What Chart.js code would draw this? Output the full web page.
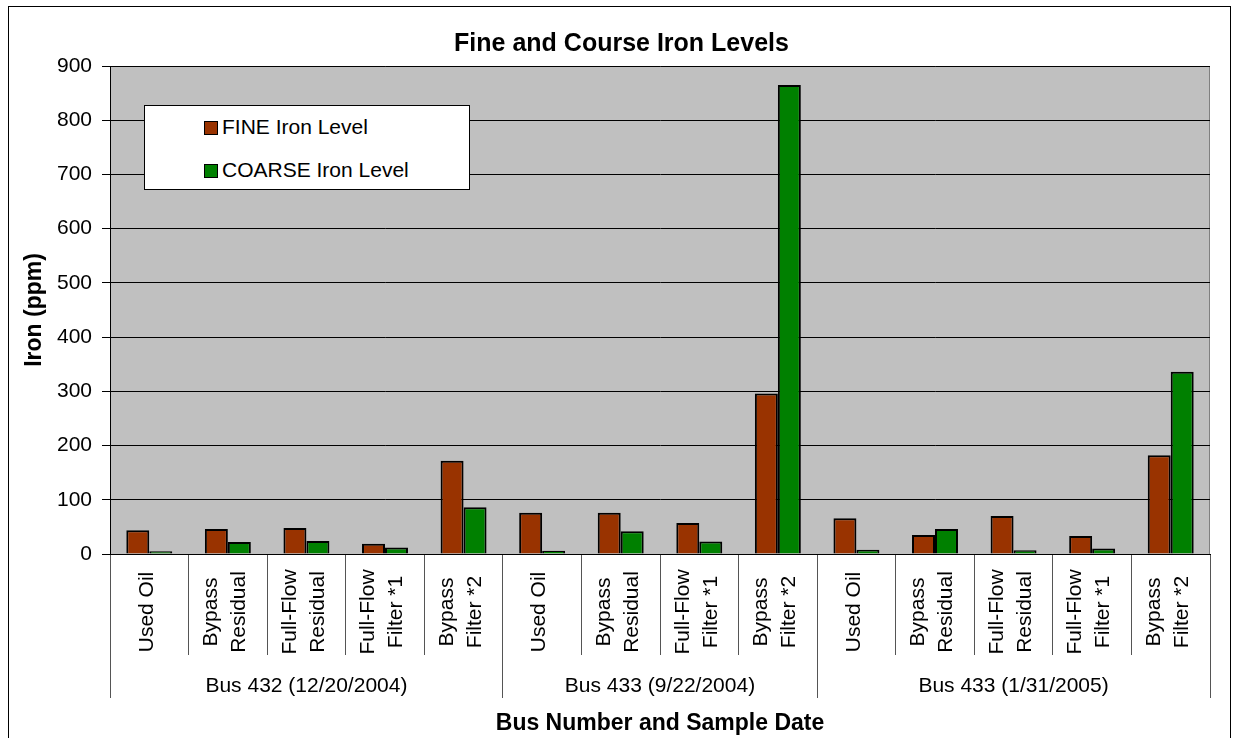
<!DOCTYPE html>
<html>
<head>
<meta charset="utf-8">
<title>Fine and Course Iron Levels</title>
<script src="https://cdn.jsdelivr.net/npm/chart.js@4.4.1/dist/chart.umd.min.js"></script>
<style>
  body { margin: 0; background: #fff; }
  #wrap { position: relative; width: 1235px; height: 738px; overflow: hidden; }
  #chart { position: absolute; left: 0; top: 0; }
  #frame {
    position: absolute; left: 8px; top: 6px; width: 1223px; height: 740px;
    box-sizing: border-box; border: 1px solid #000; pointer-events: none;
  }
  #legend {
    position: absolute; left: 144px; top: 105px; width: 326px; height: 85px;
    box-sizing: border-box; background: #fff; border: 1px solid #000;
    font: 21px "Liberation Sans", Arial, sans-serif; color: #000;
  }
  .legend-row { position: absolute; left: 59px; height: 24px; line-height: 24px; white-space: nowrap; }
  .legend-row span.box {
    display: inline-block; width: 12px; height: 12px; border: 1px solid #000;
    vertical-align: -1px; margin-right: 4px;
  }
</style>
</head>
<body>
<div id="wrap">
  <canvas id="chart" width="1235" height="738"></canvas>
  <div id="frame"></div>
  <div id="legend"></div>
</div>
<script>
// — Data —
const categories = [
  ['Used Oil'], ['Bypass', 'Residual'], ['Full-Flow', 'Residual'], ['Full-Flow', 'Filter *1'], ['Bypass', 'Filter *2'],
  ['Used Oil'], ['Bypass', 'Residual'], ['Full-Flow', 'Filter *1'], ['Bypass', 'Filter *2'],
  ['Used Oil'], ['Bypass', 'Residual'], ['Full-Flow', 'Residual'], ['Full-Flow', 'Filter *1'], ['Bypass', 'Filter *2']
];
const groupNames   = ['Bus 432 (12/20/2004)', 'Bus 433 (9/22/2004)', 'Bus 433 (1/31/2005)'];
const groupSizes   = [5, 4, 5];
const fineLevels   = [44, 46, 48, 19, 172, 76, 76, 57, 296, 66, 35, 70, 33, 182];
const coarseLevels = [5, 22, 24, 12, 86, 6, 42, 23, 865, 8, 46, 7, 10, 336];
const yTicks       = [0, 100, 200, 300, 400, 500, 600, 700, 800, 900];

const FONT = '"Liberation Sans", Arial, sans-serif';

// — Group axis ticks: boundaries get a separator line, centres get the name —
const groupBounds = [-0.5];
const groupCenters = [];
groupSizes.forEach(n => {
  const start = groupBounds[groupBounds.length - 1];
  groupCenters.push(start + n / 2);
  groupBounds.push(start + n);
});
const groupTickValues = groupBounds.concat(groupCenters).sort((a, b) => a - b);

// single-line labels get an empty first line so every label is centred the same way
const tickLabels = categories.map(c => c.length === 1 ? ['', c[0]] : c);

// — Grey plot area with a grey frame —
const plotArea = {
  id: 'plotArea',
  beforeDraw(chart) {
    const { ctx, chartArea: a } = chart;
    ctx.save();
    ctx.fillStyle = '#c0c0c0';
    ctx.fillRect(a.left, a.top, a.width, a.height);
    ctx.strokeStyle = '#808080';
    ctx.lineWidth = 1;
    ctx.strokeRect(a.left + 0.5, a.top + 0.5, a.width - 1, a.height);
    ctx.restore();
  }
};

// — Rotated category labels centred on one line, as in the original —
const centerLabels = {
  id: 'centerLabels',
  beforeDraw(chart) {
    const xs = chart.scales.x;
    xs.getLabelItems().forEach(item => {
      item.options.textAlign = 'center';
      item.options.translation[1] = xs.top + 58;
    });
  }
};

const chart = new Chart(document.getElementById('chart'), {
  type: 'bar',
  data: {
    labels: tickLabels,
    datasets: [
      { label: 'FINE Iron Level', data: fineLevels, backgroundColor: '#993300',
        borderColor: '#000', borderWidth: 2, xAxisID: 'x', yAxisID: 'y' },
      { label: 'COARSE Iron Level', data: coarseLevels, backgroundColor: '#008000',
        borderColor: '#000', borderWidth: 2, xAxisID: 'x', yAxisID: 'y' }
    ]
  },
  options: {
    responsive: false,
    animation: false,
    devicePixelRatio: 1,
    layout: { padding: { left: 8, right: 0, top: 0, bottom: 0 } },
    datasets: { bar: { categoryPercentage: 0.585, barPercentage: 1.0 } },
    plugins: {
      legend: { display: false },
      tooltip: { enabled: false },
      title: {
        display: true,
        text: 'Fine and Course Iron Levels',
        color: '#000',
        font: { family: FONT, size: 25, weight: 'bold' },
        padding: { top: 29, bottom: 7 }
      }
    },
    scales: {
      y: {
        position: 'left',
        min: 0, max: 900,
        afterBuildTicks: s => { s.ticks = yTicks.map(v => ({ value: v })); },
        ticks: { color: '#000', font: { family: FONT, size: 21 }, padding: 10 },
        grid: { color: '#000', tickLength: 8 },
        border: { color: '#000' },
        title: {
          display: true, text: 'Iron (ppm)', color: '#000',
          font: { family: FONT, size: 23, weight: 'bold' },
          padding: { top: 13, bottom: 0 }
        },
        afterFit: s => { s.width = 102; }
      },
      // empty box that keeps 25px free on the right of the plot
      pad: {
        type: 'linear', position: 'right',
        ticks: { display: false }, grid: { display: false }, border: { display: false },
        afterFit: s => { s.width = 25; }
      },
      x: {
        position: 'bottom',
        weight: 0,
        ticks: {
          autoSkip: false, minRotation: 90, maxRotation: 90,
          padding: -83, labelOffset: -16.5, color: '#000',
          font: ctx => ({ family: FONT, size: 21,
            lineHeight: categories[ctx.index] && categories[ctx.index].length === 1 ? '14px' : '28px' })
        },
        grid: { offset: true, drawOnChartArea: false, tickLength: 101, color: '#555' },
        border: { color: '#000' },
        afterFit: s => { s.height = 101; }
      },
      group: {
        type: 'linear',
        position: 'bottom',
        weight: 1,
        offset: false,
        min: -0.5, max: 13.5,
        afterBuildTicks: s => { s.ticks = groupTickValues.map(v => ({ value: v })); },
        ticks: {
          autoSkip: false, maxRotation: 0, minRotation: 0,
          padding: -24, color: '#000',
          font: { family: FONT, size: 21 },
          callback: v => {
            const i = groupCenters.indexOf(v);
            return i >= 0 ? groupNames[i] : '';
          }
        },
        grid: {
          offset: false, drawOnChartArea: false, tickLength: 43,
          color: ctx => (ctx.tick && groupBounds.includes(ctx.tick.value)) ? '#555' : 'rgba(0,0,0,0)'
        },
        border: { display: false },
        title: {
          display: true, text: 'Bus Number and Sample Date', color: '#000',
          font: { family: FONT, size: 23, weight: 'bold' },
          padding: { top: 0, bottom: 1 }
        },
        afterFit: s => { s.height = 83; }
      }
    }
  },
  plugins: [plotArea, centerLabels]
});

// — HTML legend built from the datasets —
const legendEl = document.getElementById('legend');
chart.data.datasets.forEach((ds, i) => {
  const row = document.createElement('div');
  row.className = 'legend-row';
  row.style.top = (9 + i * 42.5) + 'px';
  row.innerHTML = `<span class="box" style="background:${ds.backgroundColor}"></span>${ds.label}`;
  legendEl.appendChild(row);
});
</script>
</body>
</html>
